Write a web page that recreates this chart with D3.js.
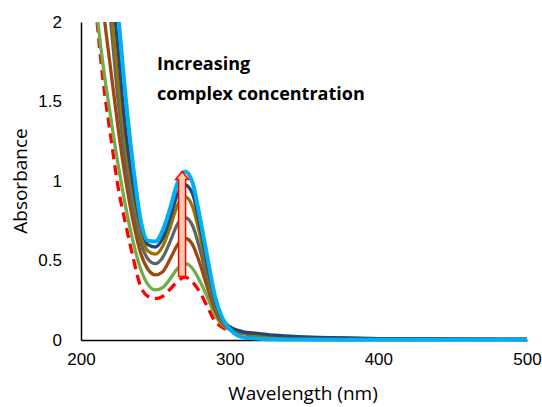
<!DOCTYPE html>
<html>
<head>
<meta charset="utf-8">
<script src="https://cdn.jsdelivr.net/npm/d3@7"></script>
<style>
  body { margin: 0; background: #fff; }
  svg { display: block; font-family: "Open Sans", sans-serif; }
  .tick-label { font-size: 17px; fill: #000; }
  .axis-title { font-size: 19px; fill: #000; }
  .note { font-size: 18px; font-weight: bold; fill: #000; }
</style>
</head>
<body>
<svg id="chart" width="542" height="407"></svg>
<script>
// wavelengths (nm) shared by every spectrum
const wavelengths = [205, 210, 215, 220, 225, 230, 235, 240, 245, 250, 255, 260, 265, 270, 275,
  280, 285, 290, 295, 300, 305, 310, 320, 330, 350, 375, 400, 450, 500];

// absorbance, lowest complex concentration first
const absFree = [2.6, 2.08, 1.62, 1.28, 0.96, 0.73, 0.52, 0.34, 0.275, 0.26, 0.275, 0.32, 0.37, 0.395, 0.365,
  0.30, 0.21, 0.12, 0.08, 0.06, 0.045, 0.035, 0.025, 0.02, 0.015, 0.01, 0.008, 0.005, 0.003];
const absGreen = [2.7, 2.12, 1.72, 1.40, 1.10, 0.84, 0.62, 0.45, 0.35, 0.315, 0.33, 0.385, 0.45, 0.48, 0.45,
  0.37, 0.27, 0.16, 0.095, 0.065, 0.05, 0.04, 0.03, 0.022, 0.015, 0.01, 0.008, 0.005, 0.003];
const absBrown = [3.0, 2.55, 2.08, 1.70, 1.33, 1.01, 0.75, 0.55, 0.445, 0.41, 0.43, 0.51, 0.60, 0.64, 0.60,
  0.48, 0.33, 0.19, 0.105, 0.07, 0.052, 0.04, 0.03, 0.022, 0.015, 0.01, 0.008, 0.005, 0.003];
const absGray = [3.2, 2.85, 2.42, 2.0, 1.50, 1.12, 0.83, 0.62, 0.51, 0.48, 0.52, 0.62, 0.73, 0.77, 0.72,
  0.57, 0.38, 0.22, 0.115, 0.075, 0.055, 0.042, 0.03, 0.022, 0.015, 0.01, 0.008, 0.005, 0.003];
const absOlive = [3.3, 2.95, 2.55, 2.1, 1.62, 1.22, 0.92, 0.68, 0.56, 0.54, 0.59, 0.71, 0.85, 0.90, 0.84,
  0.66, 0.43, 0.24, 0.12, 0.08, 0.057, 0.043, 0.031, 0.023, 0.016, 0.011, 0.008, 0.005, 0.003];
const absNavy = [3.4, 3.05, 2.7, 2.3, 1.82, 1.32, 0.98, 0.73, 0.60, 0.585, 0.64, 0.77, 0.92, 0.975, 0.92,
  0.72, 0.47, 0.26, 0.13, 0.085, 0.062, 0.05, 0.04, 0.03, 0.02, 0.013, 0.009, 0.006, 0.003];
const absSky = [3.5, 3.15, 2.8, 2.42, 2.04, 1.53, 1.10, 0.76, 0.625, 0.62, 0.69, 0.83, 0.99, 1.06, 0.99,
  0.77, 0.52, 0.28, 0.14, 0.07, 0.03, 0.015, 0.008, 0.005, 0.003, 0.002, 0.002, 0.001, 0.001];

const xTicks = [200, 300, 400, 500];
const yTicks = [0, 0.5, 1, 1.5, 2];
const noteLines = ['Increasing', 'complex concentration'];
// arrow: wavelength, start and end absorbance
const arrowAt = [268, 0.40, 1.06];

const series = [
  { values: absFree,  color: '#FF0000', width: 3.3, dash: '10,6' },
  { values: absGreen, color: '#70AD47', width: 3.3 },
  { values: absBrown, color: '#9E480E', width: 3.3 },
  { values: absGray,  color: '#636363', width: 3.3 },
  { values: absOlive, color: '#997300', width: 3.3 },
  { values: absNavy,  color: '#264478', width: 3.3 },
  { values: absSky,   color: '#00B0F0', width: 4 },
];

const svg = d3.select('#chart');
const margin = { left: 81, right: 15, top: 22, bottom: 67 };
const W = 542, H = 407;

const x = d3.scaleLinear().domain([200, 500]).range([margin.left, W - margin.right]);
const y = d3.scaleLinear().domain([0, 2]).range([H - margin.bottom, margin.top]);

svg.append('defs').append('clipPath').attr('id', 'plot-clip')
  .append('rect')
  .attr('x', margin.left)
  .attr('y', margin.top)
  .attr('width', W - margin.right - margin.left + 4)
  .attr('height', H - margin.top);

// axes, no tick marks
const xAxis = svg.append('g')
  .attr('transform', `translate(0,${y(0)})`)
  .call(d3.axisBottom(x).tickValues(xTicks).tickSize(0).tickPadding(13));
xAxis.select('.domain').attr('stroke', '#000').attr('stroke-width', 1.5);
xAxis.selectAll('text').attr('class', 'tick-label').attr('font-family', null).attr('font-size', null);

const yAxis = svg.append('g')
  .attr('transform', `translate(${margin.left},0)`)
  .call(d3.axisLeft(y).tickValues(yTicks).tickSize(0).tickPadding(19).tickFormat(d3.format('')));
yAxis.select('.domain').attr('stroke', '#000').attr('stroke-width', 1.5);
yAxis.selectAll('text').attr('class', 'tick-label').attr('font-family', null).attr('font-size', null);

// spectra
const line = d3.line()
  .x((d, i) => x(wavelengths[i]))
  .y(d => y(d))
  .curve(d3.curveMonotoneX);

svg.append('g').attr('clip-path', 'url(#plot-clip)')
  .selectAll('path')
  .data(series)
  .join('path')
  .attr('fill', 'none')
  .attr('stroke', d => d.color)
  .attr('stroke-width', d => d.width)
  .attr('stroke-dasharray', d => d.dash || null)
  .attr('stroke-linejoin', 'round')
  .attr('d', d => line(d.values));

// arrow
const ax = x(arrowAt[0]), yb = y(arrowAt[1]), yt = y(arrowAt[2]);
const sw = 3.5, hw = 6.5, hh = 8;
svg.append('path')
  .attr('d', d3.line()([
    [ax - sw, yb], [ax - sw, yt + hh], [ax - hw, yt + hh], [ax, yt],
    [ax + hw, yt + hh], [ax + sw, yt + hh], [ax + sw, yb]
  ]) + 'Z')
  .attr('fill', '#F8CBAD')
  .attr('stroke', '#FF0000')
  .attr('stroke-width', 1.5)
  .attr('stroke-linejoin', 'miter');

// annotation
svg.append('text').attr('class', 'note')
  .attr('x', 157).attr('y', 70)
  .selectAll('tspan')
  .data(noteLines)
  .join('tspan')
  .attr('x', 157)
  .attr('dy', (d, i) => i ? 30 : 0)
  .text(d => d);

// axis titles
svg.append('text').attr('class', 'axis-title')
  .attr('text-anchor', 'middle')
  .attr('transform', `translate(27,181) rotate(-90)`)
  .text('Absorbance');

svg.append('text').attr('class', 'axis-title')
  .attr('text-anchor', 'middle')
  .attr('x', 303).attr('y', 400)
  .text('Wavelength (nm)');
</script>
</body>
</html>
